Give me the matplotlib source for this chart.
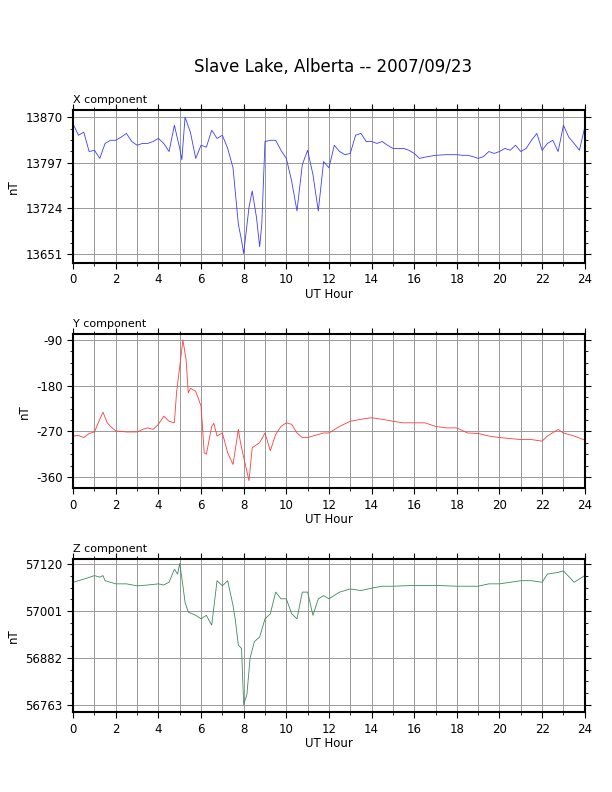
import matplotlib
matplotlib.use('Agg')
import matplotlib.pyplot as plt
from matplotlib.ticker import MultipleLocator, AutoMinorLocator

# X component (nT)
x_hours = [0, 0.25, 0.5, 0.75, 1.0, 1.25, 1.5, 1.75, 2.0, 2.25, 2.5, 2.75, 3.0, 3.25, 3.5, 3.75,
           4.0, 4.25, 4.5, 4.75, 5.0, 5.1, 5.25, 5.5, 5.75, 6.0, 6.25, 6.5, 6.75, 7.0, 7.25, 7.5,
           7.75, 7.9, 8.0, 8.25, 8.4, 8.6, 8.75, 8.85, 9.0, 9.25, 9.5, 9.75, 10.0, 10.25, 10.5,
           10.75, 11.0, 11.25, 11.5, 11.75, 12.0, 12.25, 12.5, 12.75, 13.0, 13.25, 13.5, 13.75,
           14.0, 14.25, 14.5, 14.75, 15.0, 15.25, 15.5, 15.75, 16.0, 16.25, 16.5, 17.0, 17.5,
           18.0, 18.25, 18.5, 18.75, 19.0, 19.25, 19.5, 19.75, 20.0, 20.25, 20.5, 20.75, 21.0,
           21.25, 21.5, 21.75, 22.0, 22.25, 22.5, 22.75, 23.0, 23.25, 23.5, 23.75, 24.0]
x_vals = [13859, 13841, 13846, 13815, 13817, 13804, 13828, 13833, 13833, 13838, 13844, 13831,
          13825, 13828, 13828, 13831, 13836, 13828, 13815, 13857, 13820, 13802, 13870, 13846,
          13804, 13825, 13822, 13849, 13836, 13841, 13820, 13789, 13699, 13673, 13652, 13726,
          13752, 13710, 13663, 13699, 13831, 13833, 13833, 13817, 13804, 13768, 13720, 13794,
          13817, 13778, 13720, 13799, 13789, 13825, 13815, 13810, 13812, 13841, 13844, 13831,
          13831, 13828, 13831, 13825, 13820, 13820, 13820, 13817, 13812, 13804, 13806, 13809,
          13810, 13810, 13809, 13809, 13807, 13804, 13807, 13815, 13812, 13815, 13820, 13817,
          13825, 13815, 13820, 13833, 13844, 13817, 13828, 13833, 13815, 13857, 13838, 13828,
          13817, 13854]

# Y component (nT)
y_hours = [0, 0.25, 0.5, 0.75, 1.0, 1.25, 1.4, 1.6, 1.75, 2.0, 2.5, 3.0, 3.25, 3.5, 3.75, 4.0,
           4.25, 4.5, 4.75, 4.85, 5.0, 5.15, 5.3, 5.4, 5.5, 5.75, 6.0, 6.15, 6.25, 6.5, 6.6, 6.75,
           7.0, 7.25, 7.5, 7.75, 7.85, 8.0, 8.25, 8.4, 8.75, 9.0, 9.25, 9.5, 9.75, 10.0, 10.25,
           10.5, 10.75, 11.0, 11.25, 11.5, 11.75, 12.0, 12.5, 13.0, 13.5, 14.0, 14.5, 15.0, 15.5,
           16.0, 16.5, 17.0, 17.5, 18.0, 18.5, 19.0, 19.5, 20.0, 20.5, 21.0, 21.5, 22.0, 22.25,
           22.75, 23.0, 23.5, 24.0]
y_vals = [-279, -278, -282, -274, -271, -246, -232, -253, -260, -269, -271, -271, -266, -263,
          -266, -256, -240, -250, -253, -194, -142, -90, -129, -194, -185, -191, -220, -312,
          -315, -260, -254, -279, -273, -312, -335, -266, -292, -321, -367, -302, -292, -273,
          -308, -276, -260, -253, -256, -273, -282, -282, -279, -276, -273, -273, -260, -250,
          -246, -243, -246, -250, -253, -253, -253, -260, -263, -263, -273, -274, -279, -282,
          -284, -286, -286, -289, -279, -266, -273, -279, -287]

# Z component (nT)
z_hours = [0, 0.5, 1.0, 1.25, 1.4, 1.5, 2.0, 2.5, 3.0, 3.5, 4.0, 4.25, 4.5, 4.75, 4.9, 5.0,
           5.15, 5.25, 5.4, 5.75, 6.0, 6.25, 6.5, 6.75, 7.0, 7.25, 7.5, 7.6, 7.75, 7.9, 8.0,
           8.15, 8.3, 8.5, 8.75, 9.0, 9.25, 9.5, 9.75, 10.0, 10.25, 10.5, 10.75, 11.0, 11.25,
           11.5, 11.75, 12.0, 12.5, 13.0, 13.5, 14.0, 14.5, 15.0, 16.0, 17.0, 18.0, 19.0, 19.5,
           20.0, 20.5, 21.0, 21.5, 22.0, 22.25, 22.75, 23.0, 23.5, 24.0]
z_vals = [57074, 57082, 57091, 57087, 57091, 57078, 57070, 57070, 57065, 57067, 57070, 57067,
          57074, 57107, 57095, 57122, 57065, 57023, 56998, 56990, 56981, 56990, 56965, 57078,
          57065, 57078, 57015, 56981, 56914, 56906, 56763, 56788, 56881, 56923, 56935, 56981,
          56994, 57049, 57032, 57032, 56994, 56981, 57049, 57049, 56990, 57032, 57040, 57032,
          57049, 57057, 57053, 57059, 57064, 57064, 57066, 57066, 57064, 57064, 57070, 57070,
          57074, 57078, 57078, 57074, 57095, 57099, 57103, 57074, 57091]

panels = [
    ('X component', x_hours, x_vals, '#3c3cff', (13637, 13882), [13651, 13724, 13797, 13870]),
    ('Y component', y_hours, y_vals, '#ff3c3c', (-382, -78), [-360, -270, -180, -90]),
    ('Z component', z_hours, z_vals, '#3a8a5c', (56743, 57134), [56763, 56882, 57001, 57120]),
]
boxes = [(0.668, 0.8616), (0.3834, 0.5784), (0.1004, 0.2946)]

plt.rcParams['font.family'] = 'DejaVu Sans'
plt.rcParams['axes.unicode_minus'] = False
fig = plt.figure(figsize=(6.12, 7.92), dpi=100)
fig.text(0.545, 0.915, 'Slave Lake, Alberta -- 2007/09/23', ha='center', va='center', fontsize=12)

for (name, hrs, vals, color, ylim, yticks), (bot, top) in zip(panels, boxes):
    ax = fig.add_axes([0.1195, bot, 0.836, top - bot])
    ax.plot(hrs, vals, color=color, lw=0.6)
    ax.set_xlim(0, 24)
    ax.set_ylim(*ylim)
    ax.set_xticks(range(0, 25, 2))
    ax.xaxis.set_minor_locator(MultipleLocator(1))
    ax.set_yticks(yticks)
    ax.yaxis.set_minor_locator(AutoMinorLocator(4))
    ax.grid(True, which='both', axis='x', color='#999999', lw=0.7)
    ax.grid(True, which='major', axis='y', color='#999999', lw=0.7)
    ax.tick_params(which='both', direction='out', top=True, right=True, labelsize=8.5)
    ax.tick_params(which='major', length=4)
    ax.tick_params(which='minor', length=2)
    for s in ax.spines.values():
        s.set_linewidth(1.5)
    ax.set_xlabel('UT Hour', fontsize=8.5, labelpad=1)
    ax.set_ylabel('nT', fontsize=8.5)
    ax.text(0.0, 1.03, name, transform=ax.transAxes, fontsize=8, ha='left', va='bottom')

fig.savefig('out.png', dpi=100)
